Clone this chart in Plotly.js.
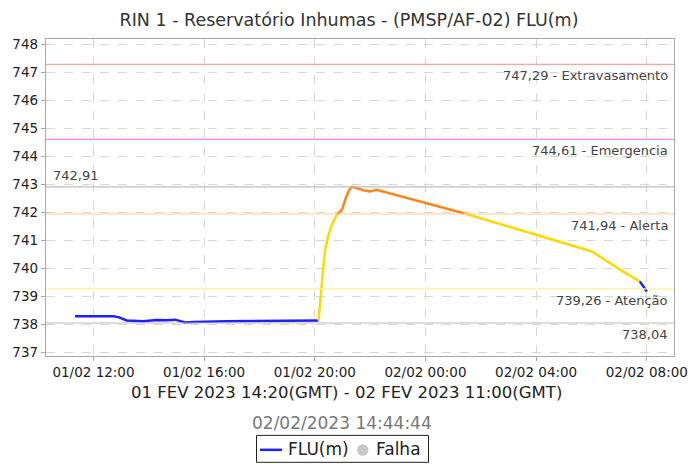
<!DOCTYPE html>
<html>
<head>
<meta charset="utf-8">
<script src="https://cdn.plot.ly/plotly-3.0.1.min.js"></script>
<style>html,body{margin:0;padding:0;background:#fff;}#chart{width:688px;height:464px;}</style>
</head>
<body>
<div id="chart"></div>
<script>
// ---- data ----
const times = [
  '2023-02-01 11:20','2023-02-01 12:43','2023-02-01 12:54','2023-02-01 13:12',
  '2023-02-01 13:48','2023-02-01 14:17','2023-02-01 14:39','2023-02-01 14:57',
  '2023-02-01 15:19','2023-02-01 15:37','2023-02-01 16:49','2023-02-01 19:57',
  '2023-02-01 20:08','2023-02-01 20:15','2023-02-01 20:19','2023-02-01 20:22',
  '2023-02-01 20:29','2023-02-01 20:37','2023-02-01 20:48','2023-02-01 20:59',
  '2023-02-01 21:06','2023-02-01 21:13','2023-02-01 21:20','2023-02-01 21:31',
  '2023-02-01 21:45','2023-02-01 22:00','2023-02-01 22:14','2023-02-02 01:25',
  '2023-02-02 06:01','2023-02-02 07:02','2023-02-02 07:45','2023-02-02 08:00'
];
const levels = [
  738.28, 738.28, 738.25, 738.13,
  738.10, 738.15, 738.14, 738.16,
  738.06, 738.08, 738.10, 738.11,
  738.13, 739.53, 740.13, 740.60,
  741.14, 741.56, 741.92, 742.10,
  742.45, 742.75, 742.91, 742.87,
  742.79, 742.75, 742.81, 741.96,
  740.60, 739.95, 739.53, 739.17
];
const thresholdValues = [747.29, 744.61, 742.91, 741.94, 739.26, 738.04];
const thresholdNames  = ['Extravasamento', 'Emergencia', '', 'Alerta', 'Atenção', ''];
const xTickStart = '2023-02-01 00:00';
const xRange = ['2023-02-01 10:17', '2023-02-02 08:59'];
const yRange = [736.86, 748.2];
const titleText = 'RIN 1 - Reservatório Inhumas - (PMSP/AF-02) FLU(m)';
const periodText = '01 FEV 2023 14:20(GMT) - 02 FEV 2023 11:00(GMT)';
const stampText = '02/02/2023 14:44:44';
const legendNames = ['FLU(m)', 'Falha'];

// ---- styles ----
const thresholdColors = ['#ffa0a0', '#ff80ff', '#bcbcbc', '#ffcc99', '#ffee99', '#bcbcbc'];
const ALERTA = thresholdValues[3], ATENCAO = thresholdValues[4];
const levelColor = v => v > ALERTA ? '#ff8419' : (v >= ATENCAO ? '#ffd800' : '#1e1eff');

// plot area in pixels
const PL = 46, PR = 674, PT = 39, PB = 356.5, W = 688, H = 464;
const px = x => (x - PL) / (PR - PL);
const py = y => (PB - y) / (PB - PT);

// ---- build colored segments ----
const traces = [];
let cur = null;
for (let i = 1; i < levels.length; i++) {
  const c = levelColor(levels[i]);
  if (cur && cur.line.color === c) {
    cur.x.push(times[i]); cur.y.push(levels[i]);
  } else {
    cur = {x: [times[i-1], times[i]], y: [levels[i-1], levels[i]], type: 'scatter', mode: 'lines',
           line: {color: c, width: 2.5}, showlegend: false, hoverinfo: 'skip'};
    traces.push(cur);
  }
}

const fmt = v => v.toFixed(2).replace('.', ',');
const shapes = [];
const annotations = [];
thresholdValues.forEach((v, i) => {
  shapes.push({type: 'line', xref: 'paper', x0: 0, x1: 1, yref: 'y', y0: v, y1: v,
               line: {color: thresholdColors[i], width: 1.2}, layer: 'above'});
  const label = fmt(v) + (thresholdNames[i] ? ' - ' + thresholdNames[i] : '');
  if (i === 2) {
    annotations.push({xref: 'paper', x: px(51), xanchor: 'left', yref: 'y', y: v, yanchor: 'middle',
      yshift: 11, text: label, showarrow: false, font: {family: 'DejaVu Sans', size: 13, color: '#444'}});
  } else {
    annotations.push({xref: 'paper', x: 1, xanchor: 'right', xshift: -4, yref: 'y', y: v, yanchor: 'middle',
      yshift: -11.5, text: label, showarrow: false, font: {family: 'DejaVu Sans', size: 13, color: '#444'}});
  }
});

// subtitle texts
annotations.push({xref: 'paper', x: px(346), xanchor: 'center', yref: 'paper', y: py(393), yanchor: 'middle',
  text: periodText, showarrow: false, font: {family: 'DejaVu Sans', size: 16.5, color: '#222'}});
annotations.push({xref: 'paper', x: px(342), xanchor: 'center', yref: 'paper', y: py(423.5), yanchor: 'middle',
  text: stampText, showarrow: false, font: {family: 'DejaVu Sans', size: 17, color: '#777'}});

// legend box
shapes.push({type: 'rect', xref: 'paper', yref: 'paper', x0: px(256.5), x1: px(428.5), y0: py(436), y1: py(463),
  line: {color: '#222', width: 1}, fillcolor: '#fff'});
shapes.push({type: 'line', xref: 'paper', yref: 'paper', x0: px(260), x1: px(282), y0: py(450.5), y1: py(450.5),
  line: {color: '#1e1eff', width: 2.5}});
shapes.push({type: 'circle', xref: 'paper', yref: 'paper', x0: px(357), x1: px(368.5), y0: py(445), y1: py(456.5),
  line: {color: '#c8c8c8', width: 0}, fillcolor: '#c8c8c8'});
annotations.push({xref: 'paper', x: px(286), xanchor: 'left', yref: 'paper', y: py(450), yanchor: 'middle',
  text: legendNames[0], showarrow: false, font: {family: 'DejaVu Sans', size: 17, color: '#222'}});
annotations.push({xref: 'paper', x: px(374), xanchor: 'left', yref: 'paper', y: py(450), yanchor: 'middle',
  text: legendNames[1], showarrow: false, font: {family: 'DejaVu Sans', size: 17, color: '#222'}});

const layout = {
  width: W, height: H,
  margin: {l: PL, r: W - PR, t: PT, b: H - PB, pad: 0},
  paper_bgcolor: '#fff', plot_bgcolor: '#fff',
  title: {text: titleText, font: {family: 'DejaVu Sans', size: 17.5, color: '#333'},
          xref: 'container', x: 349 / W, xanchor: 'center', yref: 'container', y: 1 - 20 / H, yanchor: 'middle'},
  showlegend: false,
  xaxis: {type: 'date', range: xRange, tick0: xTickStart, dtick: 4 * 3600000, tickformat: '%d/%m %H:%M',
          showgrid: true, gridcolor: '#d6d6d6', griddash: 'dash', gridwidth: 1,
          showline: true, mirror: true, linecolor: '#a8a8a8', linewidth: 1.2,
          ticks: 'outside', ticklen: 4, tickcolor: '#a8a8a8',
          tickfont: {family: 'DejaVu Sans', size: 13.5, color: '#222'}, zeroline: false, fixedrange: true},
  yaxis: {range: yRange, tick0: 737, dtick: 1, tickformat: 'd',
          showgrid: true, gridcolor: '#d6d6d6', griddash: 'dash', gridwidth: 1,
          showline: true, mirror: true, linecolor: '#a8a8a8', linewidth: 1.2,
          ticks: 'outside', ticklen: 4, tickcolor: '#a8a8a8',
          tickfont: {family: 'DejaVu Sans', size: 13.5, color: '#222'}, zeroline: false, fixedrange: true},
  shapes: shapes,
  annotations: annotations
};

Plotly.newPlot('chart', traces, layout, {staticPlot: true, displayModeBar: false});
</script>
</body>
</html>
